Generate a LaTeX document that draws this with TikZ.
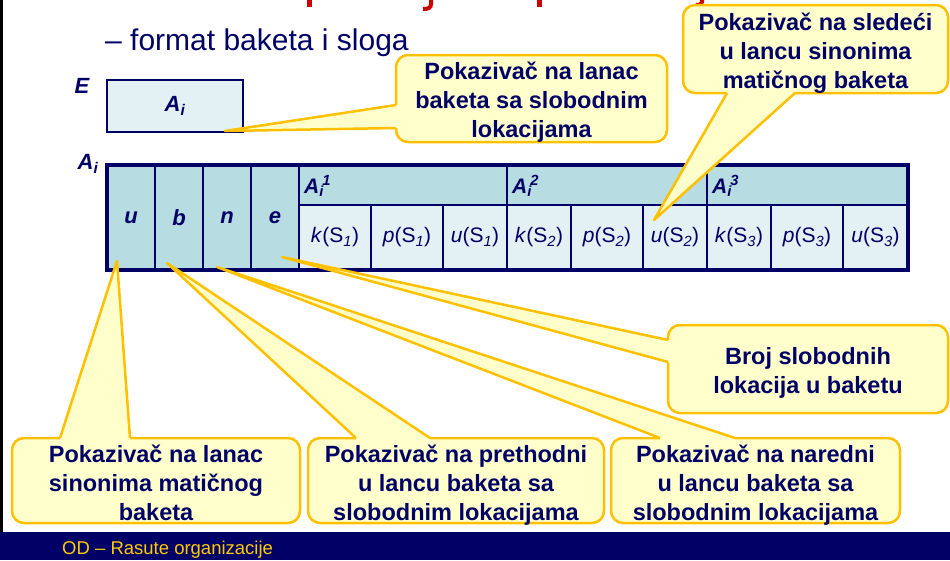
\documentclass[tikz,border=0pt]{standalone}
\usepackage{fontspec}
\setmainfont{Liberation Sans}
\usetikzlibrary{calc}

\definecolor{navy}{RGB}{0,0,102}
\definecolor{cellteal}{RGB}{183,221,226}
\definecolor{celllight}{RGB}{228,241,244}
\definecolor{notefill}{RGB}{255,255,204}
\definecolor{noteline}{RGB}{255,192,0}
\definecolor{titlered}{RGB}{204,0,0}
\definecolor{footgold}{RGB}{255,204,0}

\newcommand{\Ai}{\textbf{\textit{A\textsubscript{i}}}}
\newcommand{\Aij}[1]{\textbf{\textit{A\textsubscript{i}\kern-1.5pt\textsuperscript{#1}}}}
\newcommand{\fld}[2]{\textit{#1}(S\textsubscript{\textit{#2}})}
% tail of a callout: base point, tip, base point, shift into the box
\newcommand{\notetail}[4]{%
  \fill[tailfill] (#1) -- (#2) -- (#3) -- ($(#3)+#4$) -- ($(#1)+#4$) -- cycle;
  \draw[tailedge] (#1) -- (#2) -- (#3);}

\tikzset{
  cellbox/.style={draw=navy, line width=1.2pt, anchor=north west, inner sep=0pt, outer sep=0pt, text=navy},
  letter/.style={font=\bfseries\itshape\fontsize{22}{26}\selectfont},
  field/.style={font=\fontsize{21}{25}\selectfont},
  note/.style={rectangle, rounded corners=12pt, fill=notefill, draw=noteline, line width=2.5pt,
    anchor=north west, inner sep=0pt, outer sep=0pt},
  notetext/.style={align=center, text=navy, inner sep=0pt, font=\bfseries\fontsize{23.5}{29}\selectfont},
  tailfill/.style={fill=notefill},
  tailedge/.style={draw=noteline, line width=2.5pt, line join=round},
}

\begin{document}
\begin{tikzpicture}[x=1pt,y=-1pt]
	\useasboundingbox (0,0) rectangle (950,560);

	% slide frame and cut title
	\fill[black] (0,0) rectangle (3,532);
	\fill[titlered] (307,0) rectangle (312,7);
	\draw[titlered, line width=4pt] (431,0) -- (431,4) .. controls (431,8) and (428,9) .. (423,9);
	\fill[titlered] (537,0) rectangle (542,7);
	\draw[titlered, line width=4pt] (702,0) -- (702,2) .. controls (702,4) and (700,5) .. (696,5);

	% subtitle
	\node[anchor=base west, text=navy, font=\fontsize{30}{36}\selectfont, inner sep=0pt] (sub) at (105,50) {– format baketa i sloga};

	% E
	\node[text=navy, letter] (lE) at (82,86) {E};
	\node[cellbox, fill=celllight, line width=2.5pt, minimum width=136pt, minimum height=52pt, letter] (ebox) at (107,80) {\Ai};

	% A_i
	\node[text=navy, letter] (lA) at (88,164) {\Ai};
	\node[cellbox, fill=cellteal, minimum width=48pt, minimum height=105pt, letter] (cu) at (107,165) {u};
	\node[cellbox, fill=cellteal, minimum width=48pt, minimum height=105pt, letter] (cb) at (155,165) {b};
	\node[cellbox, fill=cellteal, minimum width=48pt, minimum height=105pt, letter] (cn) at (203,165) {n};
	\node[cellbox, fill=cellteal, minimum width=48pt, minimum height=105pt, letter] (ce) at (251,165) {e};

	% slot headers
	\node[cellbox, fill=cellteal, minimum width=208pt, minimum height=40pt] (hA1) at (299,165) {};
	\node[cellbox, fill=cellteal, minimum width=200pt, minimum height=40pt] (hA2) at (507,165) {};
	\node[cellbox, fill=cellteal, minimum width=201pt, minimum height=40pt] (hA3) at (707,165) {};
	\node[anchor=west, text=navy, inner sep=0pt, font=\fontsize{21}{25}\selectfont] (lA1) at ($(hA1.west)+(5,1)$) {\Aij{1}};
	\node[anchor=west, text=navy, inner sep=0pt, font=\fontsize{21}{25}\selectfont] (lA2) at ($(hA2.west)+(5,1)$) {\Aij{2}};
	\node[anchor=west, text=navy, inner sep=0pt, font=\fontsize{21}{25}\selectfont] (lA3) at ($(hA3.west)+(5,1)$) {\Aij{3}};

	% slot fields
	\node[cellbox, fill=celllight, minimum width=72pt, minimum height=65pt, field] (k1) at (299,205) {\fld{k}{1}};
	\node[cellbox, fill=celllight, minimum width=72pt, minimum height=65pt, field] (p1) at (371,205) {\fld{p}{1}};
	\node[cellbox, fill=celllight, minimum width=64pt, minimum height=65pt, field] (u1) at (443,205) {\fld{u}{1}};
	\node[cellbox, fill=celllight, minimum width=64pt, minimum height=65pt, field] (k2) at (507,205) {\fld{k}{2}};
	\node[cellbox, fill=celllight, minimum width=72pt, minimum height=65pt, field] (p2) at (571,205) {\fld{p}{2}};
	\node[cellbox, fill=celllight, minimum width=64pt, minimum height=65pt, field] (u2) at (643,205) {\fld{u}{2}};
	\node[cellbox, fill=celllight, minimum width=64pt, minimum height=65pt, field] (k3) at (707,205) {\fld{k}{3}};
	\node[cellbox, fill=celllight, minimum width=72pt, minimum height=65pt, field] (p3) at (771,205) {\fld{p}{3}};
	\node[cellbox, fill=celllight, minimum width=65pt, minimum height=65pt, field] (u3) at (843,205) {\fld{u}{3}};
	\draw[navy, line width=3.5pt] (cu.north west) rectangle (u3.south east);

	% callout boxes
	\node[note, minimum width=271pt, minimum height=87pt] (nfree) at (396,55) {};
	\node[note, minimum width=265pt, minimum height=88pt] (nnext) at (683,5) {};
	\node[note, minimum width=280pt, minimum height=88pt] (ncount) at (668,325) {};
	\node[note, minimum width=288pt, minimum height=85pt] (nsyn) at (12,438) {};
	\node[note, minimum width=296pt, minimum height=85pt] (nprev) at (308,438) {};
	\node[note, minimum width=289pt, minimum height=85pt] (nsucc) at (611,438) {};

	% tails
	\coordinate (tfree) at (225,131);
	\coordinate (tnext) at (654,220);
	\coordinate (tcount) at (282,257);
	\coordinate (tsyn) at (117,261);
	\coordinate (tprev) at (167,263);
	\coordinate (tsucc) at (217,267);

	\coordinate (bfree1) at ($(nfree.north west)+(0,50)$);
	\coordinate (bfree2) at ($(nfree.north west)+(0,73)$);
	\notetail{bfree1}{tfree}{bfree2}{(3,0)}
	\coordinate (bnext1) at ($(nnext.south west)+(44,0)$);
	\coordinate (bnext2) at ($(nnext.south west)+(112,0)$);
	\notetail{bnext1}{tnext}{bnext2}{(0,-3)}
	\coordinate (bcount1) at ($(ncount.north west)+(0,15)$);
	\coordinate (bcount2) at ($(ncount.north west)+(0,37)$);
	\notetail{bcount1}{tcount}{bcount2}{(3,0)}
	\coordinate (bsyn1) at ($(nsyn.north west)+(48,0)$);
	\coordinate (bsyn2) at ($(nsyn.north west)+(118,0)$);
	\notetail{bsyn1}{tsyn}{bsyn2}{(0,3)}
	\coordinate (bprev1) at ($(nprev.north west)+(48,0)$);
	\coordinate (bprev2) at ($(nprev.north west)+(122,0)$);
	\notetail{bprev1}{tprev}{bprev2}{(0,3)}
	\coordinate (bsucc1) at ($(nsucc.north west)+(49,0)$);
	\coordinate (bsucc2) at ($(nsucc.north west)+(124,0)$);
	\notetail{bsucc1}{tsucc}{bsucc2}{(0,3)}

	% callout texts
	\node[notetext] (xfree) at ($(nfree.center)+(0,4)$) {Pokazivač na lanac\\baketa sa slobodnim\\lokacijama};
	\node[notetext] (xnext) at ($(nnext.center)+(0,4)$) {Pokazivač na sledeći\\u lancu sinonima\\matičnog baketa};
	\node[notetext] (xcount) at ($(ncount.center)+(0,4)$) {Broj slobodnih\\lokacija u baketu};
	\node[notetext] (xsyn) at ($(nsyn.center)+(0,2)$) {Pokazivač na lanac\\sinonima matičnog\\baketa};
	\node[notetext] (xprev) at ($(nprev.center)+(0,5)$) {Pokazivač na prethodni\\u lancu baketa sa\\slobodnim lokacijama};
	\node[notetext] (xsucc) at ($(nsucc.center)+(0,5)$) {Pokazivač na naredni\\u lancu baketa sa\\slobodnim lokacijama};

	% footer
	\fill[navy] (0,532) rectangle (950,560);
	\node[anchor=base west, text=footgold, inner sep=0pt, font=\fontsize{18.5}{22}\selectfont] (foot) at (62,554) {OD – Rasute organizacije};

\end{tikzpicture}
\end{document}
